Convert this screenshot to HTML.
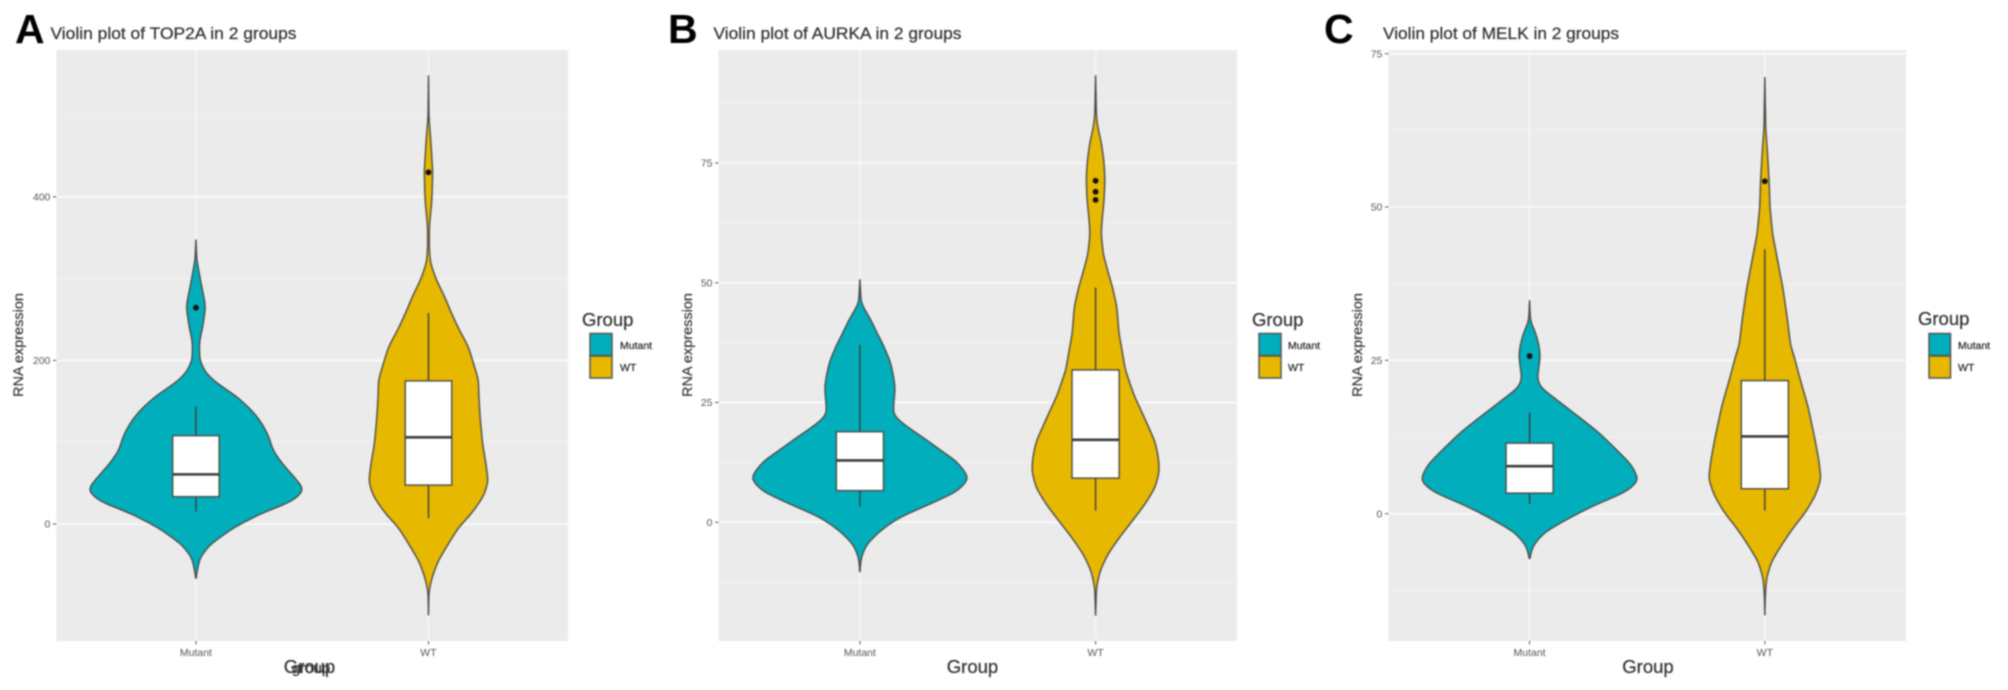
<!DOCTYPE html>
<html lang="en">
<head>
<meta charset="utf-8">
<title>Violin plots of TOP2A, AURKA and MELK in 2 groups</title>
<style>
html,body{margin:0;padding:0;background:#fff;width:2008px;height:690px;overflow:hidden}
svg{display:block;filter:blur(0.8px);font-family:"Liberation Sans",sans-serif}
.panel-letter{font-size:41px;font-weight:bold;fill:#000}
.title{font-size:17px;fill:#333;stroke:#333;stroke-width:0.25px}
.axis-title{font-size:14px;fill:#333;stroke:#333;stroke-width:0.2px}
.x-title{font-size:18.5px;fill:#333;stroke:#333;stroke-width:0.25px;text-anchor:middle}
.legend-title{font-size:18.5px;fill:#333;stroke:#333;stroke-width:0.25px}
.legend-label{font-size:10.5px;fill:#222;stroke:#222;stroke-width:0.2px}
.tick-label{font-size:10.5px;fill:#555}
.key{stroke:#555;stroke-width:1.5}
</style>
</head>
<body>
<svg id="figure" xmlns="http://www.w3.org/2000/svg" width="2008" height="690" viewBox="0 0 2008 690">
  <rect x="0" y="0" width="2008" height="690" fill="#fff"/>

  <g id="panel-a">
    <text class="panel-letter" x="15" y="43">A</text>
    <text class="title" x="50.5" y="39" textLength="246" lengthAdjust="spacingAndGlyphs">Violin plot of TOP2A in 2 groups</text>
    <g id="plot-a"></g>
    <text class="axis-title" transform="translate(23 397) rotate(-90)" textLength="104" lengthAdjust="spacingAndGlyphs">RNA expression</text>
    <text class="x-title" x="309.5" y="673">Group</text>
    <text class="x-title" x="311" y="673" style="font-size:15px">group</text>
    <text class="legend-title" x="582" y="326">Group</text>
    <rect class="key" x="590" y="333.5" width="22" height="22" fill="#00AFBB"/>
    <rect class="key" x="590" y="356" width="22" height="22" fill="#E7B800"/>
    <text class="legend-label" x="620" y="349">Mutant</text>
    <text class="legend-label" x="620" y="371">WT</text>
  </g>

  <g id="panel-b">
    <text class="panel-letter" x="668" y="43">B</text>
    <text class="title" x="713.5" y="39" textLength="248" lengthAdjust="spacingAndGlyphs">Violin plot of AURKA in 2 groups</text>
    <g id="plot-b"></g>
    <text class="axis-title" transform="translate(692 397) rotate(-90)" textLength="104" lengthAdjust="spacingAndGlyphs">RNA expression</text>
    <text class="x-title" x="972.5" y="673">Group</text>
    <text class="legend-title" x="1252" y="326">Group</text>
    <rect class="key" x="1259" y="333.5" width="22" height="22" fill="#00AFBB"/>
    <rect class="key" x="1259" y="356" width="22" height="22" fill="#E7B800"/>
    <text class="legend-label" x="1288" y="349">Mutant</text>
    <text class="legend-label" x="1288" y="371">WT</text>
  </g>

  <g id="panel-c">
    <text class="panel-letter" x="1324" y="43">C</text>
    <text class="title" x="1383" y="39" textLength="236" lengthAdjust="spacingAndGlyphs">Violin plot of MELK in 2 groups</text>
    <g id="plot-c"></g>
    <text class="axis-title" transform="translate(1362 397) rotate(-90)" textLength="104" lengthAdjust="spacingAndGlyphs">RNA expression</text>
    <text class="x-title" x="1648" y="673">Group</text>
    <text class="legend-title" x="1918" y="325">Group</text>
    <rect class="key" x="1929" y="333.5" width="21.5" height="22" fill="#00AFBB"/>
    <rect class="key" x="1929" y="356" width="21.5" height="22" fill="#E7B800"/>
    <text class="legend-label" x="1958" y="349">Mutant</text>
    <text class="legend-label" x="1958" y="371">WT</text>
  </g>
</svg>

<script>
// Shared category axis
const categories = ['Mutant', 'WT'];

// ---------- Panel A: TOP2A ----------
const top2aTicks = [0, 200, 400];
const top2aMinorTicks = [100, 300, 500];
const top2aMutantValues = [347, 323, 294.6, 266, 241, 222, 200, 184, 172, 155.6, 139, 123, 107, 90, 74.3, 58, 41.6, 27, 15, -5, -25.7, -41.6, -66];
const top2aMutantDensity = [0, 2, 12, 23, 16, 8, 9, 24, 50, 97, 132, 156, 172, 182, 203, 231, 257, 226, 162, 87, 32, 9, 0];
const top2aWtValues = [547.7, 498, 465, 430, 396, 363, 335, 318.7, 298, 278, 258, 237, 217, 197, 176, 155.6, 129.5, 96.6, 76, 52, 35, 15, -5, -25.7, -46, -66, -83, -111];
const top2aWtDensity = [0, 1, 6, 10, 8, 2, 2, 5, 19, 38, 54, 73, 94, 106, 118, 119, 122, 128, 135, 141, 131, 105, 70, 45, 22, 8, 1, 0];
const top2aMutantBox = [15, 33.4, 60.7, 108, 143.6];
const top2aWtBox = [7, 47.6, 106, 175, 258];
const top2aMutantOutliers = [264.5];
const top2aWtOutliers = [430];

// ---------- Panel B: AURKA ----------
const aurkaTicks = [0, 25, 50, 75];
const aurkaMinorTicks = [-12.5, 12.5, 37.5, 62.5, 87.5];
const aurkaMutantValues = [50.6, 45.7, 42.2, 39.4, 37, 33.4, 30, 28, 25.2, 22.4, 20.3, 17.6, 14.7, 12.7, 9.2, 6.4, 3.6, 0.9, -2, -4.7, -7.4, -10.3];
const aurkaMutantDensity = [0, 3, 26, 41, 55, 72, 80, 83, 80, 78, 105, 150, 195, 228, 258, 229, 160, 90, 45, 15, 3, 0];
const aurkaWtValues = [93.2, 84.7, 82.6, 79, 75, 71.5, 67.3, 63.8, 60.3, 56, 52, 49, 45, 39.4, 37, 31.8, 26.6, 21.8, 16.8, 13.4, 10.6, 7.2, 3.6, 0.1, -3.3, -6.8, -10.3, -13.7, -19.4];
const aurkaWtDensity = [0, 2, 5, 14, 20, 22, 20, 16, 13, 18, 30, 40, 50, 55, 60, 70, 90, 115, 140, 148, 150, 140, 115, 85, 55, 28, 10, 2, 0];
const aurkaMutantBox = [3.3, 6.6, 12.9, 18.9, 37];
const aurkaWtBox = [2.4, 9.2, 17.2, 31.8, 49];
const aurkaMutantOutliers = [];
const aurkaWtOutliers = [71.3, 69, 67.3];

// ---------- Panel C: MELK ----------
const melkTicks = [0, 25, 50, 75];
const melkMinorTicks = [-12.5, 12.5, 37.5, 62.5];
const melkMutantValues = [34.7, 31.4, 29.3, 27.4, 25.7, 24.1, 22, 20.6, 18.2, 15.5, 13.3, 10.6, 7.9, 5.4, 3.5, 1.35, -0.8, -3, -5.2, -7.3];
const melkMutantDensity = [0, 2, 15, 22, 25, 22, 18, 25, 70, 120, 160, 200, 238, 255, 224, 150, 90, 35, 8, 0];
const melkWtValues = [71.1, 62.9, 59, 54.2, 49.9, 45.6, 41.2, 36.8, 32, 27.4, 25.7, 22, 17.6, 12.7, 9, 5.7, 3, 0.26, -2.4, -5.2, -7.9, -10.5, -13.3, -16.5];
const melkWtDensity = [0, 2, 6, 10, 12, 18, 30, 42, 52, 60, 68, 82, 100, 115, 125, 131, 118, 95, 65, 38, 15, 4, 1, 0];
const melkMutantBox = [1.6, 3.35, 7.75, 11.5, 16.5];
const melkWtBox = [0.5, 4.06, 12.6, 21.7, 43.1];
const melkMutantOutliers = [25.7];
const melkWtOutliers = [54.2];

const SVG_NS = 'http://www.w3.org/2000/svg';
const FILLS = ['#00AFBB', '#E7B800'];
const LINE = '#4a4a45';
const OUTLINE_SIGMA = 4;

function make(parent, tag, attrs) {
  const el = document.createElementNS(SVG_NS, tag);
  for (const k in attrs) el.setAttribute(k, attrs[k]);
  parent.appendChild(el);
  return el;
}

// Resample the violin half-width every pixel along the y axis and smooth it
// with a small Gaussian kernel, as a kernel density curve would look.
function halfWidths(values, density, y, wid) {
  const top = y(values[0]), bottom = y(values[values.length - 1]);
  const n = Math.max(2, Math.round(bottom - top) + 1);
  const py = [], raw = [];
  let seg = 0;
  for (let i = 0; i < n; i++) {
    const p = top + (bottom - top) * i / (n - 1);
    while (seg < values.length - 2 && y(values[seg + 1]) < p) seg++;
    const a = y(values[seg]), b = y(values[seg + 1]);
    const t = b === a ? 0 : Math.min(1, Math.max(0, (p - a) / (b - a)));
    py.push(p);
    raw.push(wid(density[seg]) * (1 - t) + wid(density[seg + 1]) * t);
  }
  const r = Math.ceil(OUTLINE_SIGMA * 3);
  const out = raw.map((_, i) => {
    let sum = 0, wt = 0;
    for (let k = -r; k <= r; k++) {
      const w = Math.exp(-k * k / (2 * OUTLINE_SIGMA * OUTLINE_SIGMA));
      const j = i + k;
      sum += w * (j >= 0 && j < n ? raw[j] : 0);
      wt += w;
    }
    return sum / wt;
  });
  return { py: py, w: out };
}

function drawPanel(cfg) {
  const g = document.getElementById(cfg.id);
  const [L, R, T, B] = cfg.frame;
  const y = v => B - (v - cfg.domain[0]) / (cfg.domain[1] - cfg.domain[0]) * (B - T);
  const unit = (R - L) / (categories.length - 1 + 1.2);
  const x = i => L + (i + 0.6) * unit;
  const halfSlot = 0.45 * unit;
  const wid = d => d / cfg.densityMax * halfSlot;
  const boxHalf = 0.1 * unit;

  const bg = make(g, 'rect', { x: L, y: T, width: R - L, height: B - T, fill: '#EBEBEB' });
  
  

  cfg.minor.forEach(v => {
    const el = make(g, 'line', { x1: L, x2: R, y1: y(v), y2: y(v), stroke: '#f1f1f1', 'stroke-width': 1.2 });
    
    
  });
  cfg.ticks.forEach(v => {
    const el = make(g, 'line', { x1: L, x2: R, y1: y(v), y2: y(v), stroke: '#fafafa', 'stroke-width': 1.8 });
    
    
    const tick = make(g, 'line', { x1: L - 3.5, x2: L, y1: y(v), y2: y(v), stroke: '#555', 'stroke-width': 1 });
    
    
    const label = make(g, 'text', { x: L - 6, y: y(v) + 3.7, 'text-anchor': 'end', class: 'tick-label' });
    label.textContent = String(v);
    
    
  });
  categories.forEach((c, i) => {
    const el = make(g, 'line', { x1: x(i), x2: x(i), y1: T, y2: B, stroke: '#f8f8f8', 'stroke-width': 1.4 });
    
    
    const tick = make(g, 'line', { x1: x(i), x2: x(i), y1: B, y2: B + 3.5, stroke: '#555', 'stroke-width': 1 });
    
    
    const label = make(g, 'text', { x: x(i), y: B + 15, 'text-anchor': 'middle', class: 'tick-label' });
    label.textContent = c;
    
    
  });

  cfg.series.forEach((s, i) => {
    const hw = halfWidths(s.values, s.density, y, wid);
    const rightPts = hw.py.map((p, k) => (x(i) + hw.w[k]).toFixed(2) + ' ' + p.toFixed(2));
    const leftPts = hw.py.map((p, k) => (x(i) - hw.w[k]).toFixed(2) + ' ' + p.toFixed(2)).reverse();
    const d = 'M' + rightPts.concat(leftPts).join(' L') + ' Z';
    const violin = make(g, 'path', { d: d, fill: FILLS[i], stroke: LINE, 'stroke-width': 1.4, 'stroke-linejoin': 'round' });
    
    

    const [wLow, q1, med, q3, wHigh] = s.box;
    const whiskerHigh = make(g, 'line', { x1: x(i), x2: x(i), y1: y(wHigh), y2: y(q3), stroke: '#3d3d3d', 'stroke-width': 1.4 });
    
    
    const whiskerLow = make(g, 'line', { x1: x(i), x2: x(i), y1: y(q1), y2: y(wLow), stroke: '#3d3d3d', 'stroke-width': 1.4 });
    
    
    const box = make(g, 'rect', { x: x(i) - boxHalf, width: 2 * boxHalf, y: y(q3), height: y(q1) - y(q3), fill: '#fff', stroke: LINE, 'stroke-width': 1.4 });
    
    
    const median = make(g, 'line', { x1: x(i) - boxHalf, x2: x(i) + boxHalf, y1: y(med), y2: y(med), stroke: '#3d3d3d', 'stroke-width': 2.6 });
    
    
    s.outliers.forEach(v => {
      const dot = make(g, 'circle', { cx: x(i), cy: y(v), r: 2.9, fill: '#111' });
      
      
    });
  });
}

drawPanel({
  id: 'plot-a', frame: [56.4, 568, 50, 641], domain: [-143, 579.5], densityMax: 247,
  ticks: top2aTicks, minor: top2aMinorTicks,
  series: [
    { values: top2aMutantValues, density: top2aMutantDensity, box: top2aMutantBox, outliers: top2aMutantOutliers },
    { values: top2aWtValues, density: top2aWtDensity, box: top2aWtBox, outliers: top2aWtOutliers }
  ]
});
drawPanel({
  id: 'plot-b', frame: [718.5, 1237, 50, 641], domain: [-24.8, 98.6], densityMax: 249.5,
  ticks: aurkaTicks, minor: aurkaMinorTicks,
  series: [
    { values: aurkaMutantValues, density: aurkaMutantDensity, box: aurkaMutantBox, outliers: aurkaMutantOutliers },
    { values: aurkaWtValues, density: aurkaWtDensity, box: aurkaWtBox, outliers: aurkaWtOutliers }
  ]
});
drawPanel({
  id: 'plot-c', frame: [1388.4, 1906, 50, 641], domain: [-20.76, 75.6], densityMax: 246.5,
  ticks: melkTicks, minor: melkMinorTicks,
  series: [
    { values: melkMutantValues, density: melkMutantDensity, box: melkMutantBox, outliers: melkMutantOutliers },
    { values: melkWtValues, density: melkWtDensity, box: melkWtBox, outliers: melkWtOutliers }
  ]
});
</script>
</body>
</html>
